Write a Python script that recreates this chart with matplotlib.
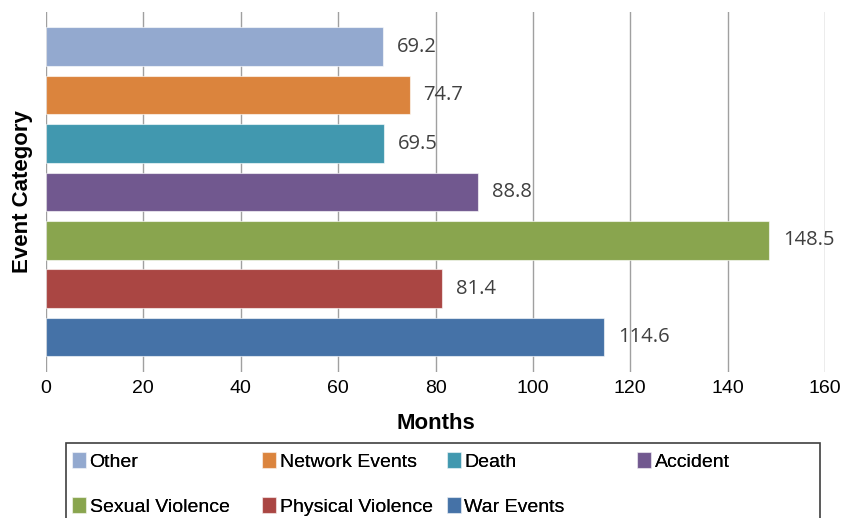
import matplotlib
matplotlib.use("Agg")
import matplotlib.pyplot as plt
from matplotlib.patches import Rectangle

plt.rcParams['font.family'] = ['Liberation Sans Narrow', 'Liberation Sans', 'DejaVu Sans']

# Data, top to bottom as in the chart
categories = ['Other', 'Network Events', 'Death', 'Accident',
              'Sexual Violence', 'Physical Violence', 'War Events']
months = [69.2, 74.7, 69.5, 88.8, 148.5, 81.4, 114.6]
colors = ['#93A9CF', '#DB843D', '#4198AF', '#71588F',
          '#89A54E', '#AA4643', '#4572A7']
x_ticks = [0, 20, 40, 60, 80, 100, 120, 140, 160]

W, H = 844, 518
fig = plt.figure(figsize=(W / 100, H / 100), dpi=100)
ax = fig.add_axes([0.0545, 0.282, 0.923, 0.695])

handles = []
for i, (cat, val, col) in enumerate(zip(categories, months, colors)):
    b = ax.barh(i, val, height=0.8, color=col, edgecolor=(1, 1, 1, 0.6),
                linewidth=0.8, label=cat, zorder=3)
    handles.append(b)
    ax.annotate(f"{val}", (val, i), xytext=(10, 0), textcoords='offset points',
                va='center', ha='left', fontsize=14.5, color='#404040',
                family=['Open Sans', 'DejaVu Sans'], zorder=4)

ax.set_xlim(0, 160)
ax.set_ylim(6.72, -0.72)
ax.set_xticks(x_ticks)
ax.set_yticks([])
ax.grid(axis='x', color='#A0A0A0', linewidth=1, zorder=0)
for s in ['top', 'right', 'bottom', 'left']:
    ax.spines[s].set_visible(False)
ax.tick_params(axis='x', length=0, labelsize=14, pad=6, colors='black')

ax.set_xlabel('Months', fontsize=16, fontweight='bold', labelpad=11)
ax.set_ylabel('Event Category', fontsize=16, fontweight='bold', labelpad=9)

# legend: 4 evenly spaced columns, filled row by row, inside one frame
col_x = [72, 262, 447, 637]
ncol = 4
for c in range(ncol):
    idx = list(range(c, len(categories), ncol))
    lg = fig.legend(handles=[handles[k] for k in idx],
                    labels=[categories[k] for k in idx],
                    loc='upper left', bbox_to_anchor=(col_x[c] / W, 1 - 452 / H),
                    frameon=False, fontsize=14, handlelength=0.7, handleheight=0.9,
                    handletextpad=0.2, borderaxespad=0, borderpad=0,
                    labelspacing=1.35)
    fig.add_artist(lg)

fig.patches.append(Rectangle((66 / W, -0.05), 754 / W, (H - 443) / H + 0.05,
                             transform=fig.transFigure, fill=False,
                             edgecolor='#404040', linewidth=1.2))

fig.savefig('out.png', dpi=100)
